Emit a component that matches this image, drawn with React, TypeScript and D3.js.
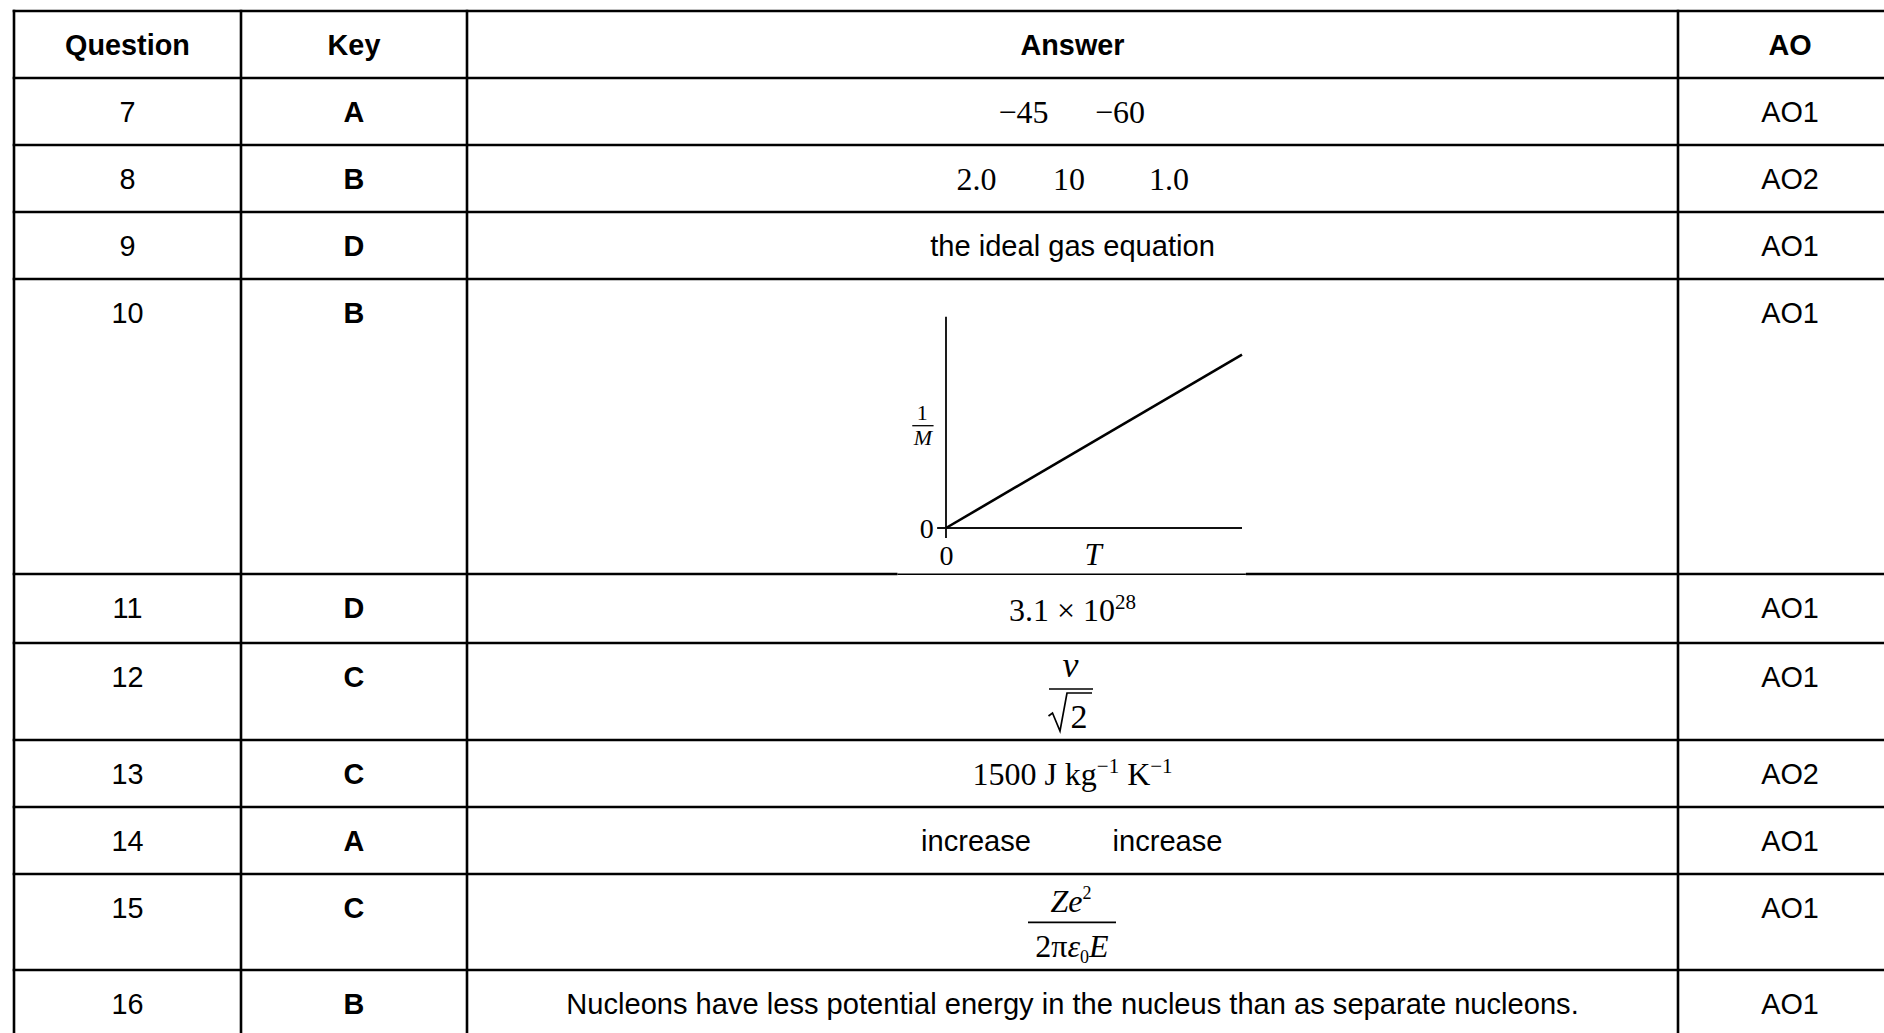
import React, { useEffect } from "react";
import * as d3 from "d3";

// ---------- data ----------
const headers = ["Question", "Key", "Answer", "AO"];
const questions = ["7", "8", "9", "10", "11", "12", "13", "14", "15", "16"];
const keys = ["A", "B", "D", "B", "D", "C", "C", "A", "C", "B"];
const aos = ["AO1", "AO2", "AO1", "AO1", "AO1", "AO1", "AO2", "AO1", "AO1", "AO1"];
const answerKinds = ["pair", "triple", "plain", "graph", "sci", "frac", "unit", "pairSans", "frac2", "plain"];
const answerTexts: string[][] = [
  ["−45", "−60"],
  ["2.0", "10", "1.0"],
  ["the ideal gas equation"],
  [],
  ["3.1 × 10", "28"],
  ["v", "2"],
  ["1500 J kg", "−1", " K", "−1"],
  ["increase", "increase"],
  ["Ze", "2", "2π", "ε", "0", "E"],
  ["Nucleons have less potential energy in the nucleus than as separate nucleons."],
];
// graph in row 10: 1/M against T
const graphLine = [
  { t: 0, v: 0 },
  { t: 1, v: 0.82 },
];

// ---------- layout ----------
const W = 1884;
const H = 1033;
const colWidths = [227, 226, 1211, 224];
const rowHeights = [67, 67, 67, 67, 295, 69, 97, 67, 67, 96, 67];
const X0 = 14;
const Y0 = 11;
const SANS = "'Liberation Sans', Arial, Helvetica, sans-serif";
const SERIF = "'Liberation Serif', 'Times New Roman', Times, serif";
const FS = 28.8;
const AFS = 29.1;
const SFS = 32;

const colEdges = [X0, ...d3.cumsum(colWidths).map((d) => X0 + d)];
const rowEdges = [Y0, ...d3.cumsum(rowHeights).map((d) => Y0 + d)];
const colCenter = (i: number) => (colEdges[i] + colEdges[i + 1]) / 2;

function Answer({ kind, texts, top, cx }: { kind: string; texts: string[]; top: number; cx: number }) {
  const base = top + 45;
  switch (kind) {
    case "pair":
      return (
        <g fontFamily={SERIF} fontSize={SFS} textAnchor="middle">
          <text x={cx - 49} y={base}>{texts[0]}</text>
          <text x={cx + 47.5} y={base}>{texts[1]}</text>
        </g>
      );
    case "triple":
      return (
        <g fontFamily={SERIF} fontSize={SFS} textAnchor="middle">
          <text x={cx - 96} y={base}>{texts[0]}</text>
          <text x={cx - 3.5} y={base}>{texts[1]}</text>
          <text x={cx + 96.5} y={base}>{texts[2]}</text>
        </g>
      );
    case "pairSans":
      return (
        <g fontFamily={SANS} fontSize={AFS} textAnchor="middle">
          <text x={cx - 96.5} y={top + 43.5}>{texts[0]}</text>
          <text x={cx + 95} y={top + 43.5}>{texts[1]}</text>
        </g>
      );
    case "plain":
      return (
        <text fontFamily={SANS} fontSize={AFS} textAnchor="middle" x={cx} y={top + 43.5}>
          {texts[0]}
        </text>
      );
    case "sci":
      return (
        <text fontFamily={SERIF} fontSize={SFS} textAnchor="middle" x={cx} y={top + 46.5}>
          {texts[0]}
          <tspan fontSize={21} dy={-12}>{texts[1]}</tspan>
        </text>
      );
    case "unit":
      return (
        <text fontFamily={SERIF} fontSize={SFS} textAnchor="middle" x={cx} y={base}>
          {texts[0]}
          <tspan fontSize={21} dy={-12}>{texts[1]}</tspan>
          <tspan dy={12}>{texts[2]}</tspan>
          <tspan fontSize={21} dy={-12}>{texts[3]}</tspan>
        </text>
      );
    case "frac":
      return (
        <g fontFamily={SERIF} fontSize={SFS}>
          <text x={cx - 2} y={top + 34} textAnchor="middle" fontStyle="italic" fontSize={36}>{texts[0]}</text>
          <line x1={cx - 23.5} x2={cx + 20.5} y1={top + 46} y2={top + 46} stroke="#000" strokeWidth={1.7} />
          <path
            d={`M${cx - 24},${top + 73} L${cx - 20},${top + 70} L${cx - 12.5},${top + 88} L${cx - 5.5},${top + 50} L${cx + 19.5},${top + 50}`}
            fill="none"
            stroke="#000"
            strokeWidth={1.7}
          />
          <text x={cx + 6.5} y={top + 85} textAnchor="middle" fontSize={34}>{texts[1]}</text>
        </g>
      );
    case "frac2":
      return (
        <g fontFamily={SERIF} fontSize={32}>
          <text x={cx - 1.5} y={top + 37.7} textAnchor="middle">
            <tspan fontStyle="italic">{texts[0]}</tspan>
            <tspan fontSize={18} dy={-13}>{texts[1]}</tspan>
          </text>
          <line x1={cx - 44.5} x2={cx + 43.5} y1={top + 48.3} y2={top + 48.3} stroke="#000" strokeWidth={1.7} />
          <text x={cx - 0.5} y={top + 82.7} textAnchor="middle">
            <tspan>{texts[2]}</tspan>
            <tspan fontStyle="italic">{texts[3]}</tspan>
            <tspan fontSize={18} dy={6}>{texts[4]}</tspan>
            <tspan fontStyle="italic" dy={-6}>{texts[5]}</tspan>
          </text>
        </g>
      );
    case "graph": {
      const xG = d3.scaleLinear().domain([0, 1]).range([cx - 126.5, cx + 169.5]);
      const yG = d3.scaleLinear().domain([0, 1]).range([top + 249, top + 37.7]);
      const line = d3
        .line<{ t: number; v: number }>()
        .x((d) => xG(d.t))
        .y((d) => yG(d.v));
      return (
        <g>
          <line x1={xG(-0.03)} x2={xG(1)} y1={yG(0)} y2={yG(0)} stroke="#111" strokeWidth={1.9} />
          <line x1={xG(0)} x2={xG(0)} y1={yG(-0.047)} y2={yG(1)} stroke="#111" strokeWidth={1.9} />
          <path d={line(graphLine) || ""} fill="none" stroke="#000" strokeWidth={2.6} />
          <g fontFamily={SERIF} textAnchor="middle">
            <text x={xG(-0.065)} y={yG(0) + 10} fontSize={28}>0</text>
            <text x={xG(0.002)} y={top + 286} fontSize={28}>0</text>
            <text x={xG(0.497)} y={top + 286} fontSize={31} fontStyle="italic">T</text>
            <text x={xG(-0.08)} y={top + 141} fontSize={22}>1</text>
            <line x1={xG(-0.114)} x2={xG(-0.042)} y1={top + 146.7} y2={top + 146.7} stroke="#000" strokeWidth={1.3} />
            <text x={xG(-0.078)} y={top + 166} fontSize={22} fontStyle="italic">M</text>
          </g>
          {/* the picture's own white edge over the row rule */}
          <rect x={xG(-0.164)} y={top + 292.5} width={xG(1.013) - xG(-0.164)} height={5.5} fill="#fff" />
          <line x1={xG(-0.164)} x2={xG(1.013)} y1={top + 295.3} y2={top + 295.3} stroke="#000" strokeWidth={1.4} />
        </g>
      );
    }
    default:
      return null;
  }
}

export default function App() {
  useEffect(() => {
    document.body.style.overflow = "hidden";
  }, []);
  return (
    <svg
      width={W}
      height={H}
      viewBox={`0 0 ${W} ${H}`}
      style={{ position: "absolute", left: 0, top: 0, display: "block", background: "#fff" }}
    >
      <rect x={0} y={0} width={W} height={H} fill="#fff" />
      {/* rules */}
      <g stroke="#000" strokeWidth={2.6}>
        {rowEdges.map((y, i) => (
          <line key={"h" + i} x1={X0 - 1.3} x2={W} y1={y} y2={y} />
        ))}
        {colEdges.map((x, i) => (
          <line key={"v" + i} x1={x} x2={x} y1={Y0 - 1.3} y2={H} />
        ))}
      </g>
      {/* header */}
      <g fontFamily={SANS} fontSize={FS} fontWeight="bold" textAnchor="middle">
        {headers.map((h, i) => (
          <text key={h} x={colCenter(i)} y={rowEdges[0] + 43.5}>
            {h}
          </text>
        ))}
      </g>
      {/* body */}
      {questions.map((q, r) => {
        const top = rowEdges[r + 1];
        return (
          <g key={q}>
            <text fontFamily={SANS} fontSize={FS} textAnchor="middle" x={colCenter(0)} y={top + 43.5}>
              {q}
            </text>
            <text fontFamily={SANS} fontSize={FS} fontWeight="bold" textAnchor="middle" x={colCenter(1)} y={top + 43.5}>
              {keys[r]}
            </text>
            <Answer kind={answerKinds[r]} texts={answerTexts[r]} top={top} cx={colCenter(2)} />
            <text fontFamily={SANS} fontSize={FS} textAnchor="middle" x={colCenter(3)} y={top + 43.5}>
              {aos[r]}
            </text>
          </g>
        );
      })}
    </svg>
  );
}
